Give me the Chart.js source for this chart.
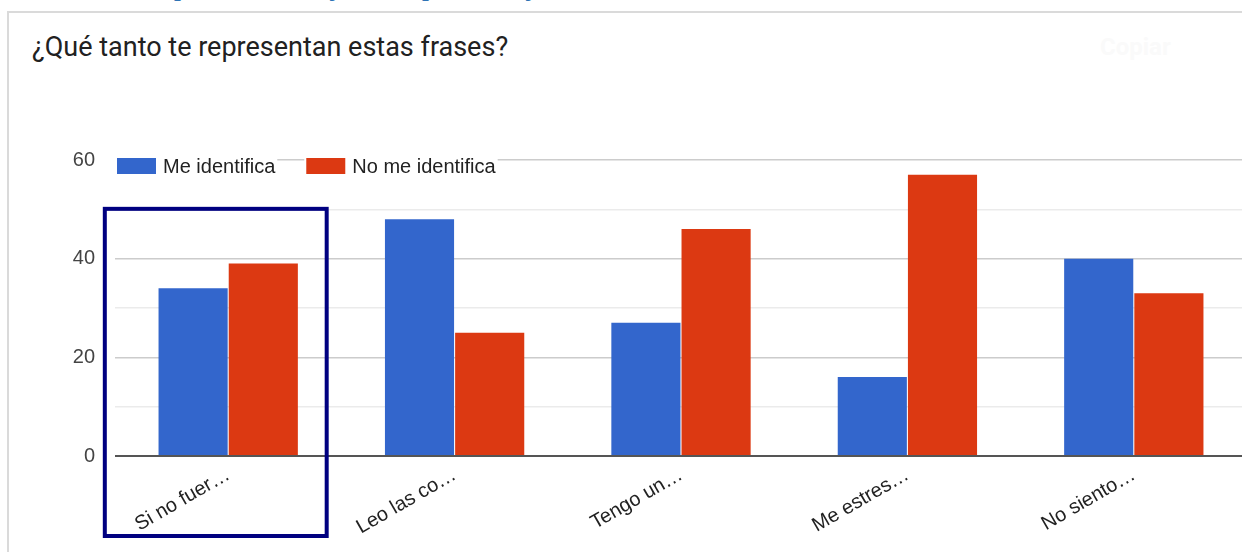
<!DOCTYPE html>
<html>
<head>
<meta charset="utf-8">
<script src="https://cdn.jsdelivr.net/npm/chart.js@4.4.1/dist/chart.umd.min.js"></script>
<style>
  html, body { margin:0; padding:0; background:#fff; width:1242px; height:552px; overflow:hidden; }
  #frame { position:absolute; left:7px; top:11px; width:1300px; height:600px; border-left:2px solid #dadada; border-top:2px solid #dadada; }
  #title { position:absolute; left:32px; top:31px; font-family: Roboto, sans-serif; font-size:27px; color:#212121; white-space:nowrap; }
  .cap { position:absolute; top:-24px; font-family:"Liberation Serif", serif; font-style:italic; font-weight:bold; font-size:24px; line-height:24px; color:#2e74b5; white-space:nowrap; }
  #copy { position:absolute; left:1100px; top:33px; font-family: Roboto, sans-serif; font-size:24px; color:#fafafa; font-weight:bold; }
  canvas { position:absolute; left:2px; top:0; }
</style>
</head>
<body>
<span class="cap" style="left:176px">prueba</span>
<span class="cap" style="left:333px">juicio</span>
<span class="cap" style="left:424px">percibe</span>
<span class="cap" style="left:529px">jóvenes</span>
<div id="frame"></div>
<div id="title">¿Qué tanto te representan estas frases?</div>
<div id="copy">Copiar</div>
<canvas id="c" width="1260" height="552"></canvas>
<script>
const categories = ["Si no fuer…", "Leo las co…", "Tengo un…", "Me estres…", "No siento…"];
const seriesNames = ["Me identifica", "No me identifica"];
const meIdentifica = [34, 48, 27, 16, 40];
const noMeIdentifica = [39, 25, 46, 57, 33];
const yTickLabels = [0, 20, 40, 60];

const FONT = "Arial, 'Liberation Sans', sans-serif";

const legendPlugin = {
  id: 'customLegend',
  afterDraw(chart) {
    const ctx = chart.ctx;
    const area = chart.chartArea;
    let x = area.left + 2;
    const cy = area.top + 6;
    ctx.save();
    ctx.font = "20px " + FONT;
    ctx.textBaseline = 'middle';
    chart.data.datasets.forEach((ds) => {
      const tw = ctx.measureText(ds.label).width;
      ctx.fillStyle = '#fff';
      ctx.fillRect(x - 2, cy - 10, 39 + 7 + tw + 4, 20);
      ctx.fillStyle = ds.backgroundColor;
      ctx.fillRect(x, cy - 8, 39, 16);
      ctx.fillStyle = '#222';
      ctx.fillText(ds.label, x + 46, cy + 1);
      x += 46 + tw + 31;
    });
    ctx.restore();
  }
};

const highlightPlugin = {
  id: 'highlight',
  afterDraw(chart) {
    const xs = chart.scales.x, ys = chart.scales.y;
    const cw = xs.getPixelForValue(1) - xs.getPixelForValue(0);
    const c0 = xs.getPixelForValue(0);
    const ctx = chart.ctx;
    ctx.save();
    ctx.strokeStyle = '#000080';
    ctx.lineWidth = 4;
    const l = c0 - 0.545 * cw, r = c0 + 0.435 * cw;
    const t = ys.getPixelForValue(50.1), b = chart.chartArea.bottom + 80;
    ctx.strokeRect(l, t, r - l, b - t);
    ctx.restore();
  }
};

new Chart(document.getElementById('c'), {
  type: 'bar',
  data: {
    labels: categories,
    datasets: [
      { label: seriesNames[0], data: meIdentifica, backgroundColor: '#3366cc', borderWidth: 0 },
      { label: seriesNames[1], data: noMeIdentifica, backgroundColor: '#dc3912', borderWidth: 0 }
    ]
  },
  options: {
    responsive: false,
    animation: false,
    layout: { padding: { left: 0, right: 15, top: 160, bottom: 0 } },
    plugins: { legend: { display: false }, tooltip: { enabled: false }, title: { display: false } },
    datasets: { bar: { categoryPercentage: 0.62, barPercentage: 0.985 } },
    scales: {
      x: {
        grid: { display: false, drawTicks: false },
        border: { display: false },
        ticks: { font: { family: FONT, size: 20 }, color: '#222', minRotation: 30, maxRotation: 30, padding: 7, autoSkip: false },
        afterFit(scale) { scale.height = 96; }
      },
      y: {
        min: 0, max: 60,
        grid: {
          drawTicks: false,
          color: (c) => c.tick.value === 0 ? '#555' : (yTickLabels.includes(c.tick.value) ? '#cccccc' : '#ebebeb'),
          lineWidth: (c) => c.tick.value === 0 ? 2 : 1.5
        },
        border: { display: false },
        ticks: {
          stepSize: 10,
          padding: 20,
          font: { family: FONT, size: 20 },
          color: '#444',
          callback: (v) => yTickLabels.includes(v) ? String(v) : ''
        },
        afterFit(scale) { scale.width = 113; }
      }
    }
  },
  plugins: [legendPlugin, highlightPlugin]
});
</script>
</body>
</html>
